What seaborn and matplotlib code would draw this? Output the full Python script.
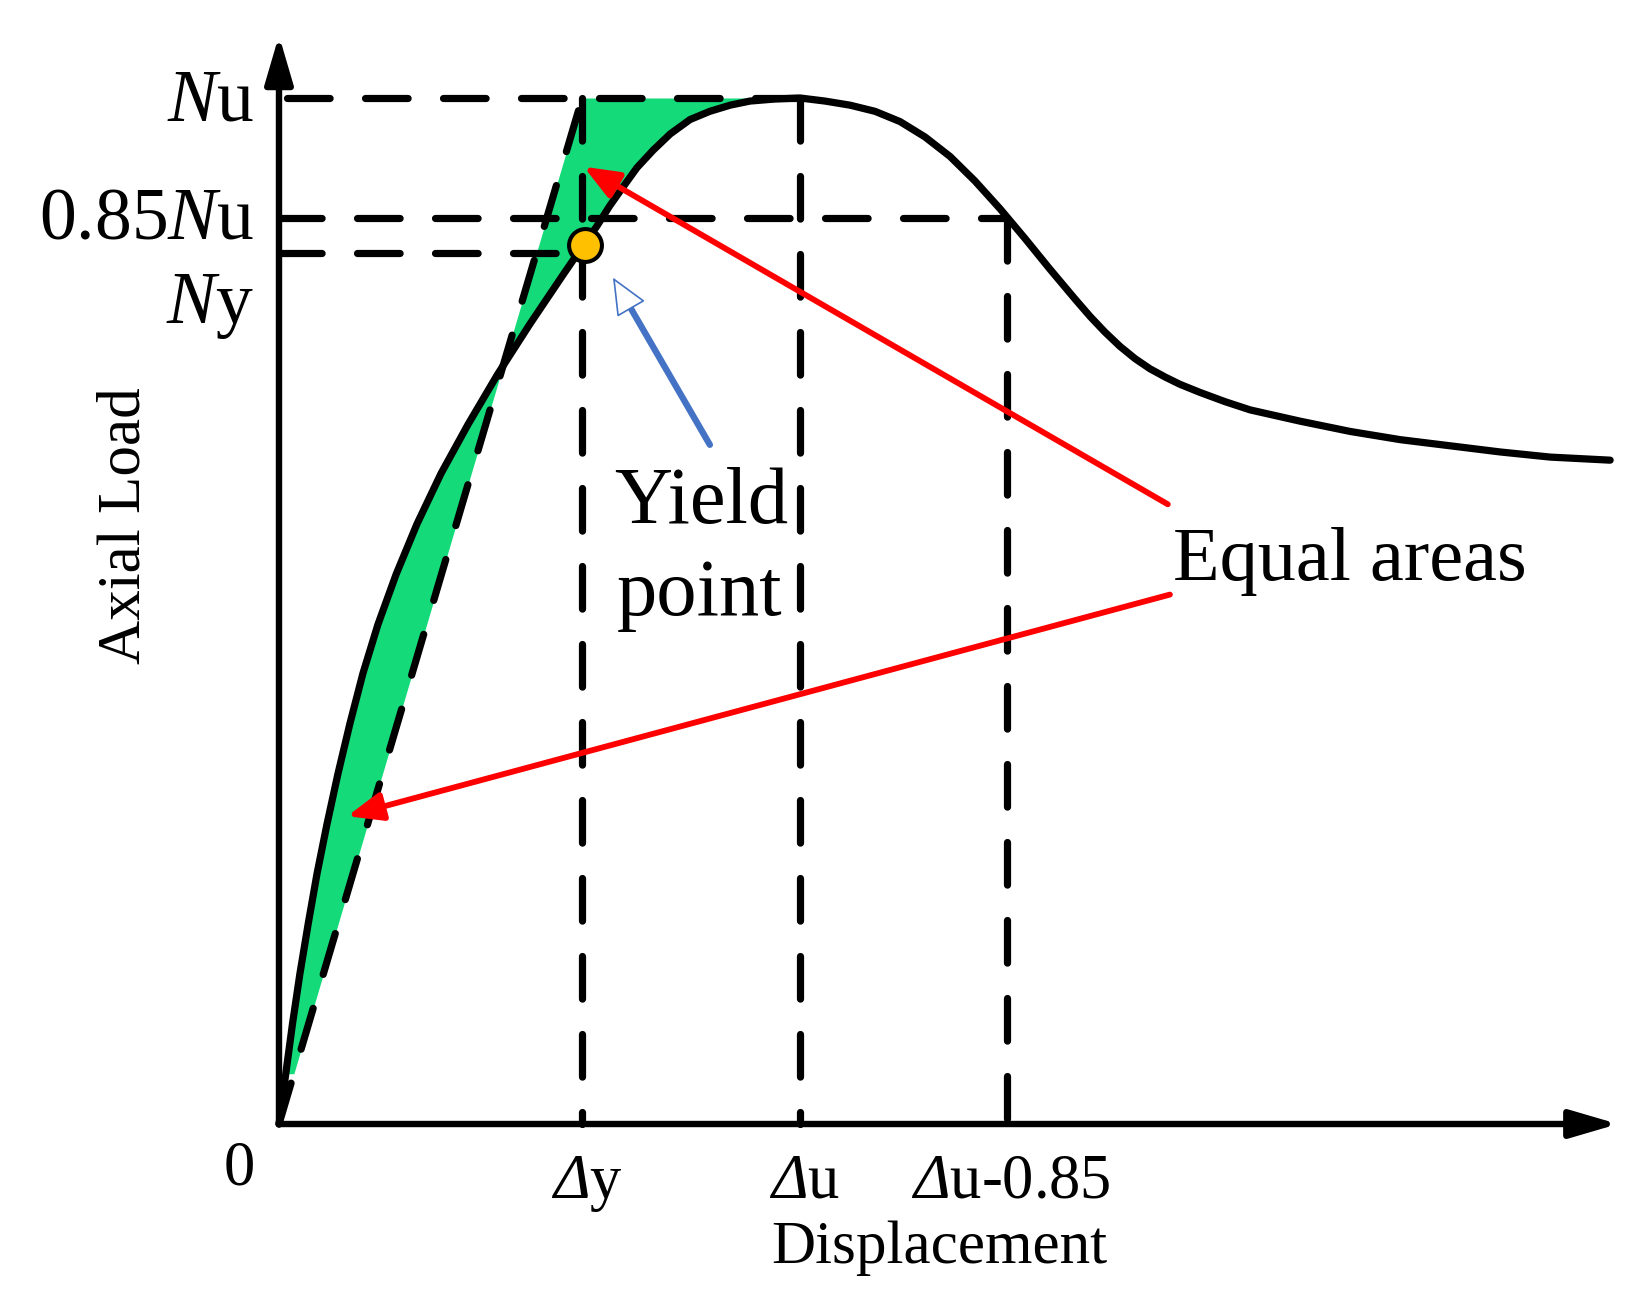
import numpy as np
import matplotlib
matplotlib.use("Agg")
import matplotlib.pyplot as plt
import seaborn as sns

# ─── Data (x in units of Δu, y in units of Nu) ────────────────────────────────
curve_x = [0.000, 0.013, 0.026, 0.040, 0.056, 0.073, 0.092, 0.113, 0.136, 0.161,
           0.190, 0.225, 0.265, 0.311, 0.363, 0.420, 0.482, 0.547, 0.585, 0.610,
           0.635, 0.660, 0.687, 0.718, 0.751, 0.789, 0.827, 0.866, 0.904, 0.952,
           1.000,
           1.048, 1.096, 1.144, 1.192, 1.240, 1.288, 1.336, 1.384, 1.432, 1.480,
           1.528, 1.557, 1.585, 1.614, 1.643, 1.672, 1.701, 1.729, 1.768, 1.816,
           1.864, 1.960, 2.056, 2.152, 2.248, 2.344, 2.440, 2.555]
curve_y = [0.000, 0.049, 0.098, 0.146, 0.195, 0.244, 0.292, 0.341, 0.390, 0.439,
           0.487, 0.536, 0.585, 0.634, 0.682, 0.731, 0.780, 0.829, 0.857, 0.875,
           0.895, 0.913, 0.932, 0.949, 0.965, 0.979, 0.987, 0.993, 0.997, 0.999,
           1.000,
           0.997, 0.993, 0.987, 0.977, 0.962, 0.943, 0.919, 0.892, 0.863, 0.833,
           0.804, 0.787, 0.772, 0.758, 0.746, 0.736, 0.728, 0.721, 0.713, 0.704,
           0.696, 0.685, 0.675, 0.667, 0.661, 0.655, 0.650, 0.647]

N_U   = 1.0      # peak load
N_085 = 0.883    # "0.85Nu" level as drawn
N_Y   = 0.849    # yield load
D_Y   = 0.582    # yield displacement
D_U   = 1.0      # displacement at peak
D_U85 = 1.397    # post-peak displacement at 0.85Nu
yield_pt = (0.587, 0.857)

y_tick_labels = [r"$N$u", r"0.85$N$u", r"$N$y"]
y_tick_base   = [0.978, 0.863, 0.781]
x_tick_labels = [r"$\Delta$y", r"$\Delta$u", r"$\Delta$u-0.85"]
x_tick_pos    = [D_Y, D_U, D_U85]

# annotation arrows: (tail, tip)
red_arrows = [((1.706, 0.604), (0.585, 0.933)),
              ((1.710, 0.516), (0.131, 0.300))]
blue_arrow = ((0.827, 0.662), (0.641, 0.825))

# ─── Style ────────────────────────────────────────────────────────────────────
GREEN  = "#14DA7A"
ORANGE = "#FFC000"
BLUE   = "#4472C4"
LW     = 5.2
DASH   = (0, (5.9, 4.9))
FILL_FROM = 0.045

X_LIM = (-0.5355, 2.6315)
Y_LIM = (-0.1764, 1.0955)
X_AXIS_END = 2.570
Y_AXIS_END = 1.061

sns.set_theme(style="white")
plt.rcParams["font.family"] = ["Liberation Serif", "DejaVu Serif"]
plt.rcParams["text.color"] = "black"
plt.rcParams["mathtext.fontset"] = "custom"
plt.rcParams["mathtext.rm"] = "Liberation Serif:italic"
plt.rcParams["mathtext.it"] = "Liberation Serif:italic"

fig = plt.figure(figsize=(16.5, 13.05), dpi=100)
ax = fig.add_axes([0, 0, 1, 1])
ax.axis("off")

cx = np.array(curve_x)
cy = np.array(curve_y)

# equal-area shading between curve and secant
rise = (cx <= D_U) & (cy >= FILL_FROM)
ax.fill_betweenx(cy[rise], cx[rise], D_Y * cy[rise] / N_U,
                 color=GREEN, lw=0, zorder=1)

# dashed guide lines
dash_kw = dict(color="black", lw=LW, ls=DASH, dash_capstyle="round", zorder=2)
ax.plot([0.015, D_U], [N_U, N_U], **dash_kw)
ax.plot([0.0, D_U85], [N_085, N_085], **dash_kw)
ax.plot([0.0, D_Y], [N_Y, N_Y], **dash_kw)
ax.plot([D_Y, D_Y], [N_U, 0], **dash_kw)
ax.plot([D_U, D_U], [N_U, 0], **dash_kw)
ax.plot([D_U85, D_U85], [N_085, 0], **dash_kw)
ax.plot([0, D_Y], [0, N_U], **dash_kw)

# load-displacement curve
sns.lineplot(x=curve_x, y=curve_y, color="black", lw=LW, sort=False,
             solid_capstyle="round", solid_joinstyle="round", ax=ax, zorder=4)

# axes with arrow heads
axis_kw = dict(arrowstyle="-|>,head_length=2.9,head_width=0.85",
               mutation_scale=10, color="black", lw=4.6, shrinkA=0, shrinkB=0)
ax.annotate("", xy=(0, Y_AXIS_END), xytext=(0, 0), arrowprops=axis_kw, zorder=3)
ax.annotate("", xy=(X_AXIS_END, 0), xytext=(0, 0), arrowprops=axis_kw, zorder=3)

# red "equal areas" arrows
for tail, tip in red_arrows:
    ax.annotate("", xy=tip, xytext=tail, zorder=5,
                arrowprops=dict(arrowstyle="-|>,head_length=2.1,head_width=0.85",
                                mutation_scale=10, color="red", lw=4.2,
                                shrinkA=0, shrinkB=0))

# blue arrow with hollow head
tail, tip = blue_arrow
ax.annotate("", xy=tip, xytext=tail, zorder=5,
            arrowprops=dict(arrowstyle="-", color=BLUE, lw=4.6,
                            shrinkA=0, shrinkB=23))
ax.annotate("", xy=tip, xytext=tail, zorder=5,
            arrowprops=dict(arrowstyle="-|>,head_length=2.4,head_width=1.05",
                            mutation_scale=10, fc="white", ec=BLUE, lw=1.2,
                            shrinkA=0, shrinkB=0))

# yield point
sns.scatterplot(x=[yield_pt[0]], y=[yield_pt[1]], s=560, color=ORANGE,
                edgecolor="black", linewidth=2.9, zorder=6, ax=ax)

# tick labels
for lab, yb in zip(y_tick_labels, y_tick_base):
    ax.text(-0.048, yb, lab, fontsize=53, ha="right", va="baseline")
for lab, xp in zip(x_tick_labels, x_tick_pos):
    ax.text(xp + 0.008, -0.072, lab, fontsize=45, ha="center", va="baseline")
ax.text(-0.077, -0.059, "0", fontsize=45, ha="center", va="baseline")

# axis titles and notes
ax.text(1.267, -0.135, "Displacement", fontsize=44, ha="center", va="baseline")
ax.text(-0.297, 0.583, "Axial Load", fontsize=44, rotation=90,
        ha="center", va="center")
ax.text(0.643, 0.586, "Yield", fontsize=58, ha="left", va="baseline")
ax.text(0.648, 0.496, "point", fontsize=58, ha="left", va="baseline")
ax.text(1.715, 0.530, "Equal areas", fontsize=55, ha="left", va="baseline")

ax.set_xlim(X_LIM)
ax.set_ylim(Y_LIM)

fig.savefig("out.png", dpi=100)
plt.close(fig)
